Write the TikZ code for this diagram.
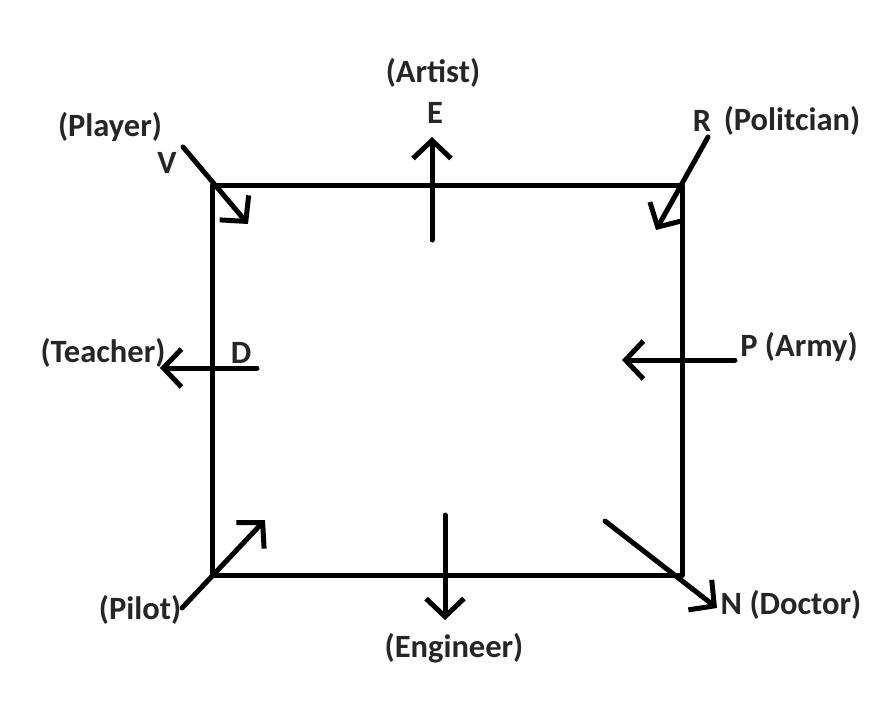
\documentclass[tikz,border=0pt]{standalone}
\usepackage{fontspec}
\setmainfont{Carlito}
\usetikzlibrary{arrows.meta}
\begin{document}
\begin{tikzpicture}[x=1pt,y=-1pt,
  lbl/.style={font=\bfseries\fontsize{32.5}{34}\selectfont, text=black!85, inner sep=0pt},
  edge/.style={line width=5pt, line cap=round, line join=round},
  arr/.style={edge, -{Straight Barb[length=18pt,width=38pt]}}]
\useasboundingbox (0,0) rectangle (895,724);
\fill[white] (0,0) rectangle (895,724);
% square
\coordinate (tl) at (212,185);
\coordinate (tr) at (682,185);
\coordinate (br) at (682,575);
\coordinate (bl) at (212,575);
\draw[edge] (tl) -- (tr) -- (br) -- (bl) -- cycle;
% arrow end points
\coordinate (v1) at (183,147);  \coordinate (v2) at (248,224);
\coordinate (e1) at (432,240);  \coordinate (e2) at (432,137);
\coordinate (r1) at (708,137);  \coordinate (r2) at (656,230);
\coordinate (d1) at (257,368);  \coordinate (d2) at (160,368);
\coordinate (p1) at (735,360);  \coordinate (p2) at (622,360);
\coordinate (pl1) at (182,608); \coordinate (pl2) at (265,520);
\coordinate (g1) at (445,515);  \coordinate (g2) at (445,620);
\coordinate (n1) at (605,521);  \coordinate (n2) at (717,608);
\draw[arr] (v1) -- (v2);
\draw[arr] (e1) -- (e2);
\draw[arr] (r1) -- (r2);
\draw[arr] (d1) -- (d2);
\draw[arr] (p1) -- (p2);
\draw[arr] (pl1) -- (pl2);
\draw[arr] (g1) -- (g2);
\draw[arr] (n1) -- (n2);
% labels
\node[lbl] (player) at (110,127) {(Player)};
\node[lbl] (V) at (167,163) {V};
\node[lbl] (artist) at (433,73) {(Artist)};
\node[lbl] (E) at (435,113) {E};
\node[lbl] (R) at (702,121) {R};
\node[lbl] (pol) at (792,121) {(Politcian)};
\node[lbl] (teacher) at (103,353) {(Teacher)};
\node[lbl] (D) at (241,353) {D};
\node[lbl] (army) at (799,347) {P (Army)};
\node[lbl] (pilot) at (140,610) {(Pilot)};
\node[lbl] (eng) at (454,648) {(Engineer)};
\node[lbl] (doc) at (791,605) {N (Doctor)};
\end{tikzpicture}
\end{document}
